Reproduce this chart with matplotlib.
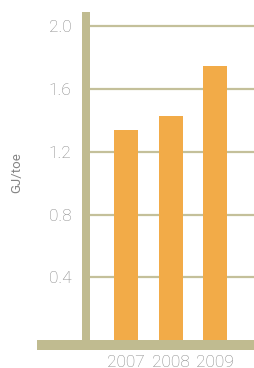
import matplotlib.pyplot as plt
from matplotlib.patches import Rectangle

years = ['2007', '2008', '2009']
values = [1.34, 1.43, 1.75]
yticks = [0.4, 0.8, 1.2, 1.6, 2.0]

W, H = 254, 368
khaki = '#c0bb90'
orange = '#f2ab48'
grey = '#858585'

plt.rcParams['font.family'] = ['Roboto', 'DejaVu Sans']
plt.rcParams['font.weight'] = 'light'

fig = plt.figure(figsize=(W / 100, H / 100), dpi=100)
# axes area in pixels: x 90..254, zero line at y=340, top at y=12
ax = fig.add_axes([90 / W, (H - 340) / H, (W - 90) / W, (340 - 12) / H])

x = range(len(years))
ax.bar(x, values, width=0.54, color=orange, zorder=3)
ax.set_xlim(-0.81, 2.875)
ax.set_ylim(0, 2.092)

ax.set_yticks(yticks)
ax.set_yticklabels(['{0:.1f}'.format(v) for v in yticks])
ax.yaxis.grid(True, color='#c4c09a', linewidth=1.6, zorder=1)
ax.set_axisbelow(True)
ax.set_xticks(list(x))
ax.set_xticklabels(years)

ax.tick_params(axis='y', length=0, pad=13.5, labelsize=12.5, labelcolor=grey)
ax.tick_params(axis='x', length=0, pad=11, labelsize=12.5, labelcolor=grey)
for s in ax.spines.values():
    s.set_visible(False)

ax.set_ylabel('GJ/toe', fontsize=9.5, color=grey, labelpad=0)
ax.yaxis.set_label_coords(-0.41, 0.51)

# thick axis bars
fig.add_artist(Rectangle((82 / W, (H - 340) / H), 8 / W, (340 - 12) / H,
                         transform=fig.transFigure, color=khaki, lw=0))
fig.add_artist(Rectangle((37 / W, (H - 350) / H), (W - 37) / W, 10 / H,
                         transform=fig.transFigure, color=khaki, lw=0))

fig.savefig('out.png', dpi=100)
